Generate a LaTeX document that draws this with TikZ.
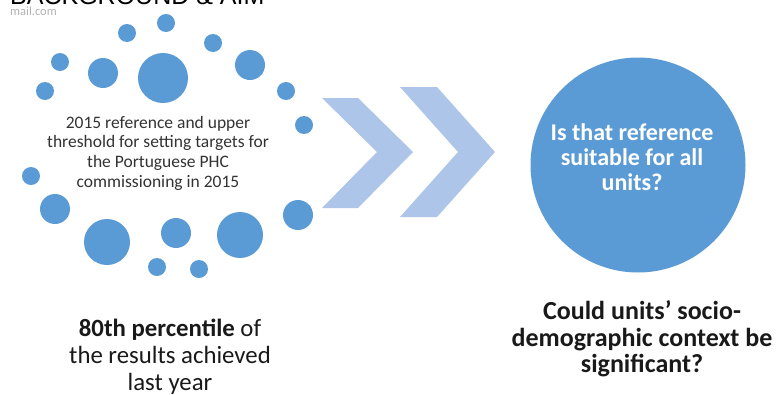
\documentclass[tikz,border=0pt]{standalone}
\usepackage{fontspec}
\setmainfont{Carlito}
\newfontfamily\titlefont{Liberation Sans}
\definecolor{dotblue}{HTML}{5B9BD5}
\definecolor{chevblue}{HTML}{ADC5E8}
\definecolor{txtgray}{HTML}{333333}
\begin{document}
\begin{tikzpicture}[x=1pt,y=-1pt,
  dot/.style={fill=dotblue,draw=none},
  chev/.style={fill=chevblue,draw=none},
  bodytext/.style={align=center,inner sep=0pt,text=txtgray}]
\useasboundingbox (0,0) rectangle (776,394);
\fill[white] (0,0) rectangle (776,394);
% title (cut off at the top)
\node[anchor=base west,inner sep=0pt,font=\titlefont\fontsize{25}{25}\selectfont] (title) at (10,4) {BACKGROUND \& AIM};
\node[anchor=base west,inner sep=0pt,font=\fontsize{12.5}{12.5}\selectfont,text=gray!60] (mail) at (10,15) {mail.com};
% ring of dots
\foreach \x/\y/\r [count=\i] in {166/23/9, 127/33/9, 213/43/9, 60/62/9, 103/73/15, 163/78/25, 250/65/15,
  45/91/9, 286/91/9, 304/125/9, 31/176/9, 55/209/15, 298/215/15, 107/242/23, 176/233/15, 240/235/23,
  157/267/9, 199/269/9}
  \fill[dot] (\x,\y) circle[radius=\r];
\node[bodytext,font=\fontsize{17.5}{19.7}\selectfont] (ref) at (158,153)
  {2015 reference and upper\\threshold for setting targets for\\the Portuguese PHC\\commissioning in 2015};
% chevrons
\fill[chev] (322,98) -- (358,98) -- (413,152) -- (358,208) -- (322,208) -- (377,152) -- cycle;
\fill[chev] (400,87) -- (437,87) -- (495,152) -- (437,217) -- (400,217) -- (458,152) -- cycle;
% big circle
\node[circle,fill=dotblue,draw=none,minimum size=215pt,inner sep=0pt] (q) at (638,165) {};
\node[align=center,inner sep=0pt,text=white,font=\bfseries\fontsize{24}{25}\selectfont] (qt) at (632,157)
  {Is that reference\\suitable for all\\units?};
% bottom texts
\node[align=center,inner sep=0pt,text=black!90,font=\fontsize{24.8}{27}\selectfont] (pct) at (170,357)
  {\textbf{80th percentile} of\\the results achieved\\last year};
\node[align=center,inner sep=0pt,text=black!90,font=\bfseries\fontsize{26}{26.5}\selectfont] (ctx) at (642,339)
  {Could units’ socio-\\demographic context be\\significant?};
\end{tikzpicture}
\end{document}
